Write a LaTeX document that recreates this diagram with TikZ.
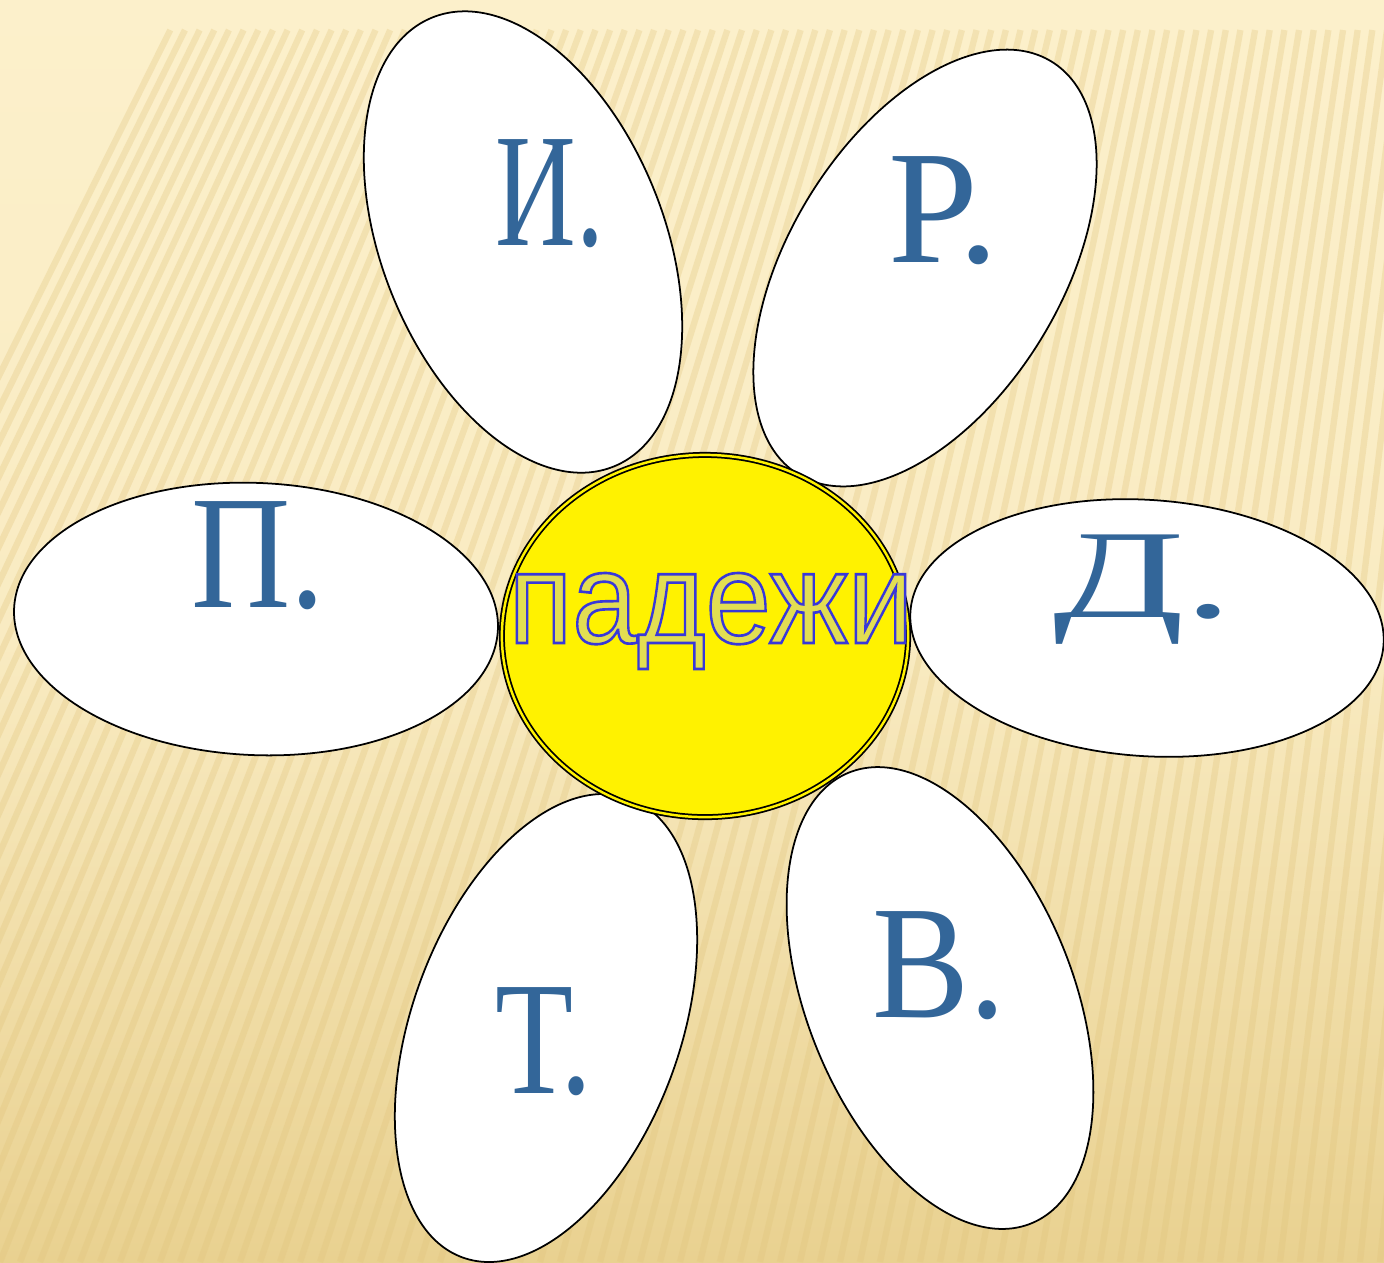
\documentclass[tikz,border=0pt]{standalone}
\usepackage{fontspec}
\setmainfont{Liberation Serif}
\newfontfamily\padsans{Liberation Sans}
\usetikzlibrary{shapes.geometric}
\definecolor{bgtop}{HTML}{FCF0CB}
\definecolor{bgbot}{HTML}{E9D190}
\definecolor{stripe}{HTML}{E0C37A}
\definecolor{letterblue}{HTML}{336699}
\definecolor{padfill}{HTML}{E2DE52}
\begin{document}
\begin{tikzpicture}[x=0.01cm,y=-0.01cm,
  petal/.style={ellipse, draw=black, line width=0.5pt, fill=white, inner sep=0pt, outer sep=0pt},
  caseletter/.style={text=letterblue, font=\fontsize{46}{50}\selectfont, inner sep=0pt, anchor=base, transform shape}]
% background
\useasboundingbox (0,0) rectangle (1384,1262);
\begin{scope}
\clip (0,0) rectangle (1384,1262);
\shade[top color=bgtop, bottom color=bgbot, middle color=bgtop!85!bgbot] (0,0) rectangle (1384,1262);
\foreach \i in {-22,...,72} {
  \pgfmathsetmacro\xb{\i*20}
  \pgfmathsetmacro\xt{\xb+(0.40-0.30*\xb/1384)*1232}
  \draw[stripe, opacity=0.3, line width=1.8pt] (\xb,1262) -- (\xt,30);
}
\fill[bgtop] (0,0) rectangle (1384,28);
\end{scope}
% petals
\node[petal, minimum width=2.82cm, minimum height=4.84cm, rotate=22] (pI) at (523,242) {};
\node[petal, minimum width=2.72cm, minimum height=4.84cm, rotate=-31.5] (pR) at (925,268) {};
\node[petal, minimum width=4.84cm, minimum height=2.72cm, rotate=-2.5] (pP) at (256,619) {};
\node[petal, minimum width=4.74cm, minimum height=2.56cm, rotate=-4] (pD) at (1147,628) {};
\node[petal, minimum width=2.68cm, minimum height=4.88cm, rotate=-20] (pT) at (546,1028) {};
\node[petal, minimum width=2.66cm, minimum height=4.86cm, rotate=22] (pV) at (940,998) {};
% letters
\node[caseletter, xscale=0.69] (lI) at (550,245) {И.};
\node[caseletter] (lR) at (944,262) {Р.};
\node[caseletter, xscale=0.85] (lP) at (258,607) {П.};
\node[caseletter, xscale=1.19, yscale=0.78] (lD) at (1143,617) {Д.};
\node[caseletter, xscale=0.9] (lV) at (939,1017) {В.};
\node[caseletter, xscale=0.79] (lT) at (544,1093) {Т.};
% centre
\node[ellipse, minimum width=4.06cm, minimum height=3.62cm, inner sep=0pt, fill=yellow, draw=black, line width=0.5pt, double=yellow, double distance=0.7pt] (core) at (705,636) {};
\node[anchor=base, inner sep=0pt, xscale=0.9, transform shape, font=\padsans\fontsize{37}{40}\selectfont] (pad) at (711,643)
  {\color{padfill}\special{pdf:literal direct 2 Tr 0.75 w 0.22 0.22 0.85 RG}падежи\special{pdf:literal direct 0 Tr}};
\end{tikzpicture}
\end{document}
